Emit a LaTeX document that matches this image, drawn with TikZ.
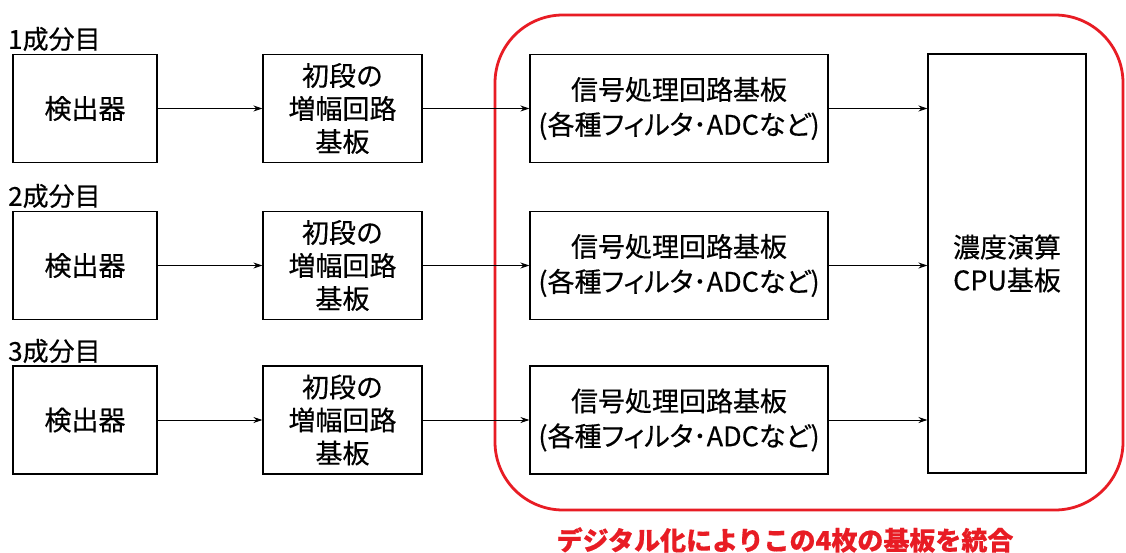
\documentclass[tikz,border=0pt]{standalone}
\usepackage{fontspec}
\setmainfont{Noto Sans CJK JP}[FakeBold=0.4]
\usetikzlibrary{arrows.meta}
\definecolor{hired}{RGB}{232,28,36}
\begin{document}
\begin{tikzpicture}[x=1pt,y=-1pt,
  txt/.style={font=\fontsize{27}{33}\selectfont, align=center, inner sep=0pt},
  box/.style={txt, draw, line width=1.1pt},
  detbox/.style={box, minimum width=144pt, minimum height=108pt},
  ampbox/.style={box, minimum width=159pt, minimum height=108pt},
  sigbox/.style={box, minimum width=298pt, minimum height=108pt, font=\fontsize{27}{35}\selectfont},
  lbl/.style={txt, anchor=west, font=\fontsize{26}{30}\selectfont},
  arr/.style={-{Stealth[length=9pt,width=6pt]}, line width=0.8pt},
]
\useasboundingbox (0,0) rectangle (1126,553);
\fill[white] (0,0) rectangle (1126,553);

% red grouping frame
\draw[hired, line width=2.8pt, rounded corners=68pt] (495,15) rectangle (1123,510);
\node[txt, text=hired, font=\fontsize{26}{30}\selectfont\bfseries] (note) at (785,540) {デジタル化によりこの4枚の基板を統合};

% row labels
\node[lbl] (l1) at (8,39) {1成分目};
\node[lbl] (l2) at (8,196) {2成分目};
\node[lbl] (l3) at (8,351) {3成分目};

% detectors
\node[detbox] (d1) at (85,108.5) {検出器};
\node[detbox] (d2) at (85,265.5) {検出器};
\node[detbox] (d3) at (85,420) {検出器};

% first-stage amplifier boards
\node[ampbox] (a1) at (342.5,108.5) {初段の\\増幅回路\\基板};
\node[ampbox] (a2) at (342.5,265.5) {初段の\\増幅回路\\基板};
\node[ampbox] (a3) at (342.5,420) {初段の\\増幅回路\\基板};

% signal processing boards
\node[sigbox] (s1) at (679,108.5) {信号処理回路基板\\{\addfontfeatures{RawFeature=+palt}(各種フィルタ･ADCなど)}};
\node[sigbox] (s2) at (679,265.5) {信号処理回路基板\\{\addfontfeatures{RawFeature=+palt}(各種フィルタ･ADCなど)}};
\node[sigbox] (s3) at (679,420) {信号処理回路基板\\{\addfontfeatures{RawFeature=+palt}(各種フィルタ･ADCなど)}};

% CPU board
\node[box, minimum width=158pt, minimum height=419pt] (cpu) at (1007,263.5) {濃度演算\\CPU基板};

% connectors
\foreach \i in {1,2,3}{
  \draw[arr] (d\i.east) -- (a\i.west);
  \draw[arr] (a\i.east) -- (s\i.west);
  \draw[arr] (s\i.east) -- (s\i.east -| cpu.west);
}
\end{tikzpicture}
\end{document}
